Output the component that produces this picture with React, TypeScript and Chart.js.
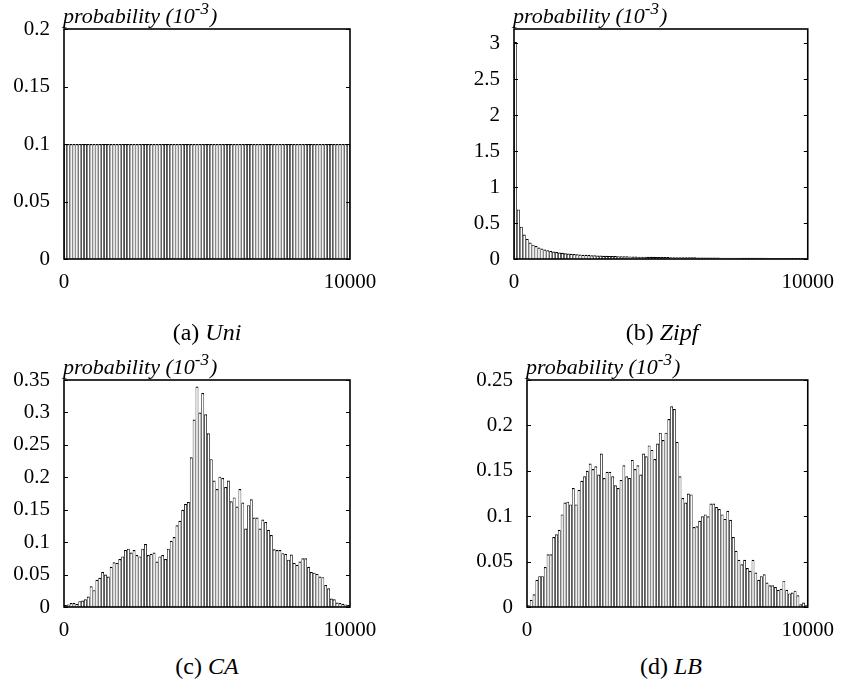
import React, { useEffect, useRef } from "react";
import { Chart, registerables } from "chart.js";

Chart.register(...registerables);

// ---------------- data ----------------
const X_MIN = 0;
const X_MAX = 10000;
const BIN_WIDTH = 100;
const X_TICKS = [0, 10000];

const UNI_VALUES = [
  0.1, 0.1, 0.1, 0.1, 0.1, 0.1, 0.1, 0.1, 0.1, 0.1,
  0.1, 0.1, 0.1, 0.1, 0.1, 0.1, 0.1, 0.1, 0.1, 0.1,
  0.1, 0.1, 0.1, 0.1, 0.1, 0.1, 0.1, 0.1, 0.1, 0.1,
  0.1, 0.1, 0.1, 0.1, 0.1, 0.1, 0.1, 0.1, 0.1, 0.1,
  0.1, 0.1, 0.1, 0.1, 0.1, 0.1, 0.1, 0.1, 0.1, 0.1,
  0.1, 0.1, 0.1, 0.1, 0.1, 0.1, 0.1, 0.1, 0.1, 0.1,
  0.1, 0.1, 0.1, 0.1, 0.1, 0.1, 0.1, 0.1, 0.1, 0.1,
  0.1, 0.1, 0.1, 0.1, 0.1, 0.1, 0.1, 0.1, 0.1, 0.1,
  0.1, 0.1, 0.1, 0.1, 0.1, 0.1, 0.1, 0.1, 0.1, 0.1,
  0.1, 0.1, 0.1, 0.1, 0.1, 0.1, 0.1, 0.1, 0.1, 0.1,
];
const UNI_Y_TICKS = [0, 0.05, 0.1, 0.15, 0.2];
const UNI_Y_MAX = 0.2;

const ZIPF_VALUES = [
  3.02, 0.69, 0.45, 0.34, 0.28, 0.23, 0.20, 0.18, 0.16, 0.145,
  0.132, 0.121, 0.112, 0.104, 0.097, 0.091, 0.086, 0.081, 0.077, 0.073,
  0.069, 0.066, 0.063, 0.060, 0.058, 0.055, 0.053, 0.051, 0.049, 0.048,
  0.046, 0.045, 0.043, 0.042, 0.041, 0.040, 0.039, 0.038, 0.037, 0.036,
  0.035, 0.034, 0.033, 0.032, 0.032, 0.031, 0.030, 0.030, 0.029, 0.028,
  0.028, 0.027, 0.027, 0.026, 0.026, 0.025, 0.025, 0.024, 0.024, 0.023,
  0.023, 0.023, 0.022, 0.022, 0.021, 0.021, 0.021, 0.020, 0.020, 0.020,
  0.019, 0.019, 0.019, 0.018, 0.018, 0.018, 0.018, 0.017, 0.017, 0.017,
  0.017, 0.016, 0.016, 0.016, 0.016, 0.016, 0.015, 0.015, 0.015, 0.015,
  0.015, 0.014, 0.014, 0.014, 0.014, 0.014, 0.014, 0.013, 0.013, 0.013,
];
const ZIPF_Y_TICKS = [0, 0.5, 1, 1.5, 2, 2.5, 3];
const ZIPF_Y_MAX = 3.2;

const CA_VALUES = [
  0.003, 0.004, 0.006, 0.006, 0.005, 0.009, 0.010, 0.012, 0.016, 0.032,
  0.026, 0.042, 0.045, 0.054, 0.050, 0.047, 0.062, 0.069, 0.068, 0.074,
  0.078, 0.088, 0.090, 0.084, 0.088, 0.080, 0.078, 0.090, 0.097, 0.080,
  0.082, 0.084, 0.070, 0.078, 0.080, 0.074, 0.090, 0.102, 0.108, 0.126,
  0.133, 0.150, 0.159, 0.162, 0.231, 0.289, 0.340, 0.300, 0.330, 0.297,
  0.268, 0.228, 0.195, 0.182, 0.201, 0.199, 0.185, 0.195, 0.163, 0.169,
  0.155, 0.182, 0.161, 0.121, 0.157, 0.166, 0.138, 0.138, 0.121, 0.135,
  0.131, 0.119, 0.111, 0.089, 0.088, 0.088, 0.083, 0.082, 0.073, 0.081,
  0.068, 0.065, 0.070, 0.075, 0.075, 0.062, 0.054, 0.053, 0.051, 0.047,
  0.046, 0.034, 0.029, 0.013, 0.012, 0.007, 0.006, 0.005, 0.004, 0.003,
];
const CA_Y_TICKS = [0, 0.05, 0.1, 0.15, 0.2, 0.25, 0.3, 0.35];
const CA_Y_MAX = 0.35;

const LB_VALUES = [
  0.002, 0.008, 0.014, 0.030, 0.034, 0.034, 0.044, 0.058, 0.058, 0.077,
  0.080, 0.085, 0.102, 0.115, 0.116, 0.113, 0.131, 0.113, 0.129, 0.139,
  0.144, 0.150, 0.158, 0.152, 0.155, 0.146, 0.169, 0.142, 0.149, 0.149,
  0.144, 0.134, 0.131, 0.140, 0.156, 0.144, 0.142, 0.162, 0.152, 0.156,
  0.146, 0.169, 0.166, 0.178, 0.173, 0.163, 0.180, 0.192, 0.184, 0.192,
  0.207, 0.221, 0.218, 0.182, 0.144, 0.120, 0.115, 0.125, 0.124, 0.088,
  0.089, 0.095, 0.100, 0.102, 0.100, 0.114, 0.114, 0.110, 0.108, 0.102,
  0.097, 0.106, 0.096, 0.077, 0.062, 0.052, 0.047, 0.052, 0.043, 0.040,
  0.052, 0.038, 0.030, 0.034, 0.036, 0.027, 0.024, 0.024, 0.022, 0.019,
  0.020, 0.029, 0.019, 0.015, 0.016, 0.018, 0.013, 0.003, 0.005, 0.002,
];
const LB_Y_TICKS = [0, 0.05, 0.1, 0.15, 0.2, 0.25];
const LB_Y_MAX = 0.25;

const Y_LABEL_MAIN = "probability (10";
const Y_LABEL_EXP = "-3";
const Y_LABEL_END = ")";

// ---------------- layout / style ----------------
const SERIF = '"Liberation Serif", "Times New Roman", serif';
const TICK_FONT_SIZE = 21;
const LABEL_FONT_SIZE = 22;
const EXP_FONT_SIZE = 17;
const CAPTION_FONT_SIZE = 24;

type Geom = {
  left: number; top: number; w: number; h: number;
  yAxisW: number; xAxisH: number; padTop: number; padRight: number;
};

const PANELS: {
  key: string; tag: string; name: string; values: number[]; yTicks: number[]; yMax: number;
  geom: Geom; captionX: number; captionBaseline: number;
}[] = [
  { key: "a", tag: "(a) ", name: "Uni", values: UNI_VALUES, yTicks: UNI_Y_TICKS, yMax: UNI_Y_MAX,
    geom: { left: 0, top: 0, w: 422, h: 300, yAxisW: 64, xAxisH: 41, padTop: 29, padRight: 72 },
    captionX: 207, captionBaseline: 340 },
  { key: "b", tag: "(b) ", name: "Zipf", values: ZIPF_VALUES, yTicks: ZIPF_Y_TICKS, yMax: ZIPF_Y_MAX,
    geom: { left: 440, top: 0, w: 405, h: 300, yAxisW: 74, xAxisH: 41, padTop: 29, padRight: 31 },
    captionX: 662, captionBaseline: 340 },
  { key: "c", tag: "(c) ", name: "CA", values: CA_VALUES, yTicks: CA_Y_TICKS, yMax: CA_Y_MAX,
    geom: { left: 0, top: 340, w: 422, h: 310, yAxisW: 64, xAxisH: 43, padTop: 40, padRight: 72 },
    captionX: 207, captionBaseline: 674 },
  { key: "d", tag: "(d) ", name: "LB", values: LB_VALUES, yTicks: LB_Y_TICKS, yMax: LB_Y_MAX,
    geom: { left: 440, top: 340, w: 405, h: 310, yAxisW: 87, xAxisH: 43, padTop: 40, padRight: 31 },
    captionX: 671, captionBaseline: 674 },
];

const framePlugin = {
  id: "gnuplotFrame",
  afterDraw(chart: any) {
    const { ctx, chartArea: a, scales } = chart;
    ctx.save();
    ctx.strokeStyle = "#000";
    ctx.lineWidth = 1.6;
    ctx.strokeRect(a.left, a.top, a.right - a.left, a.bottom - a.top);
    ctx.lineWidth = 1;
    const ys = scales.y;
    ys.ticks.forEach((t: any) => {
      const py = Math.round(ys.getPixelForValue(t.value)) + 0.5;
      ctx.beginPath();
      ctx.moveTo(a.left, py);
      ctx.lineTo(a.left + 4, py);
      ctx.moveTo(a.right, py);
      ctx.lineTo(a.right - 4, py);
      ctx.stroke();
    });
    // axis label "probability (10^-3)"
    ctx.fillStyle = "#000";
    ctx.textBaseline = "alphabetic";
    ctx.textAlign = "left";
    const bx = a.left - 1;
    const by = a.top - 6;
    ctx.font = `italic ${LABEL_FONT_SIZE}px ${SERIF}`;
    ctx.fillText(Y_LABEL_MAIN, bx, by);
    const w1 = ctx.measureText(Y_LABEL_MAIN).width;
    ctx.font = `italic ${EXP_FONT_SIZE}px ${SERIF}`;
    ctx.fillText(Y_LABEL_EXP, bx + w1, by - 9);
    const w2 = ctx.measureText(Y_LABEL_EXP).width;
    ctx.font = `italic ${LABEL_FONT_SIZE}px ${SERIF}`;
    ctx.fillText(Y_LABEL_END, bx + w1 + w2 + 1, by);
    ctx.restore();
  },
};

function Panel(props: { values: number[]; yTicks: number[]; yMax: number; geom: Geom }) {
  const ref = useRef<HTMLCanvasElement | null>(null);
  const { values, yTicks, yMax, geom } = props;
  useEffect(() => {
    if (!ref.current) return;
    const points = values.map((v, i) => ({ x: X_MIN + BIN_WIDTH * i + BIN_WIDTH / 2, y: v }));
    const tickFont = { family: SERIF, size: TICK_FONT_SIZE };
    const chart = new Chart(ref.current, {
      type: "bar",
      data: {
        datasets: [
          {
            data: points as any,
            backgroundColor: "#ffffff",
            borderColor: "#000000",
            borderWidth: { top: 1.2, left: 0.8, right: 0.8, bottom: 0 } as any,
            borderSkipped: "bottom",
            barPercentage: 1,
            categoryPercentage: 1,
            inflateAmount: 0,
          } as any,
        ],
      },
      options: {
        animation: false,
        responsive: false,
        maintainAspectRatio: false,
        devicePixelRatio: 1,
        events: [],
        layout: { padding: { top: geom.padTop, right: geom.padRight, left: 0, bottom: 0 } },
        plugins: { legend: { display: false }, tooltip: { enabled: false }, title: { display: false } },
        scales: {
          x: {
            type: "linear",
            min: X_MIN,
            max: X_MAX,
            offset: false,
            grid: { display: false, drawTicks: false, offset: false },
            border: { display: false },
            ticks: {
              font: tickFont,
              color: "#000",
              padding: 11,
              maxRotation: 0,
              autoSkip: false,
              callback: (v: any) => String(v),
            },
            afterBuildTicks: (s: any) => {
              s.ticks = X_TICKS.map((v) => ({ value: v }));
            },
            afterFit: (s: any) => {
              s.height = geom.xAxisH;
            },
          },
          y: {
            type: "linear",
            min: 0,
            max: yMax,
            grid: { display: false, drawTicks: false },
            border: { display: false },
            ticks: {
              font: tickFont,
              color: "#000",
              padding: 14,
              autoSkip: false,
              callback: (v: any) => String(v),
            },
            afterBuildTicks: (s: any) => {
              s.ticks = yTicks.map((v) => ({ value: v }));
            },
            afterFit: (s: any) => {
              s.width = geom.yAxisW;
            },
          },
        } as any,
      },
      plugins: [framePlugin],
    } as any);
    return () => chart.destroy();
  }, []);
  return (
    <canvas
      ref={ref}
      width={geom.w}
      height={geom.h}
      style={{ position: "absolute", left: geom.left, top: geom.top, width: geom.w, height: geom.h }}
    />
  );
}

export default function App() {
  return (
    <div
      style={{
        position: "absolute",
        left: 0,
        top: 0,
        width: 845,
        height: 700,
        background: "#fff",
        overflow: "hidden",
      }}
    >
      {PANELS.map((p) => (
        <Panel key={p.key} values={p.values} yTicks={p.yTicks} yMax={p.yMax} geom={p.geom} />
      ))}
      {PANELS.map((p) => (
        <div
          key={"cap" + p.key}
          style={{
            position: "absolute",
            left: p.captionX - 100,
            width: 200,
            top: p.captionBaseline - 20,
            textAlign: "center",
            fontFamily: SERIF,
            fontSize: CAPTION_FONT_SIZE,
            lineHeight: "24px",
            color: "#000",
            whiteSpace: "nowrap",
          }}
        >
          {p.tag}
          <i>{p.name}</i>
        </div>
      ))}
    </div>
  );
}
